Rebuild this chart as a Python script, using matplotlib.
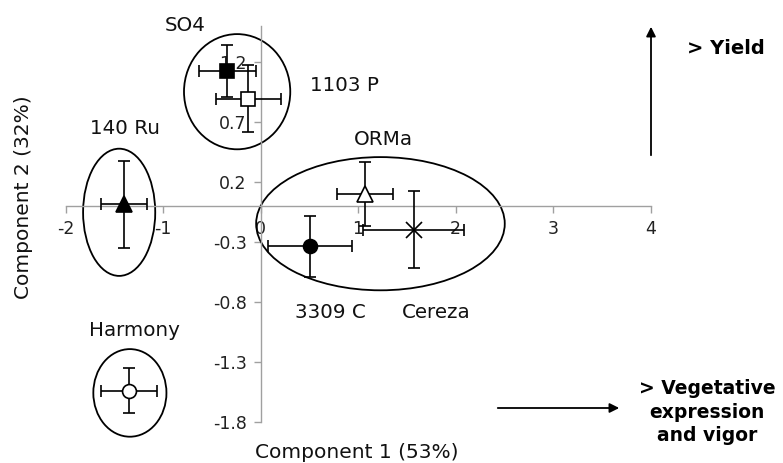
import matplotlib
matplotlib.use("Agg")
import matplotlib.pyplot as plt
from matplotlib.patches import Ellipse, FancyArrowPatch

# ---- data ----
names = ["SO4", "1103 P", "140 Ru", "Harmony", "ORMa", "3309 C", "Cereza"]
comp1 = [-0.34, -0.125, -1.40, -1.35, 1.07, 0.51, 1.57]
comp2 = [1.12, 0.89, 0.01, -1.54, 0.10, -0.34, -0.20]
err1 = [0.29, 0.33, 0.235, 0.29, 0.29, 0.43, 0.52]
err2 = [0.215, 0.28, 0.36, 0.186, 0.267, 0.253, 0.32]
markers = ["s", "s", "^", "o", "^", "o", "x"]
filled = [True, False, True, False, False, True, False]

label_x = [-0.77, 0.86, -1.39, -1.29, 1.26, 0.72, 1.80]
label_y = [1.50, 1.00, 0.64, -1.04, 0.55, -0.89, -0.89]

# cluster ellipses: centre x, centre y, width, height
ell_cx = [-0.24, -1.45, -1.34, 1.23]
ell_cy = [0.95, -0.055, -1.56, -0.15]
ell_w = [1.09, 0.74, 0.75, 2.55]
ell_h = [0.96, 1.06, 0.73, 1.11]

xticks = [-2, -1, 0, 1, 2, 3, 4]
yticks = [-1.8, -1.3, -0.8, -0.3, 0.2, 0.7, 1.2]

# ---- figure ----
fig = plt.figure(figsize=(7.83, 4.63), dpi=100)
ax = fig.add_axes([0.0837, 0.0892, 0.7471, 0.8553])
ax.set_xlim(-2, 4)
ax.set_ylim(-1.8, 1.5)

for s in ["top", "right"]:
    ax.spines[s].set_visible(False)
ax.spines["left"].set_position(("data", 0))
ax.spines["bottom"].set_position(("data", 0))
for s in ["left", "bottom"]:
    ax.spines[s].set_color("#a0a0a0")
    ax.spines[s].set_linewidth(1.0)

ax.set_xticks(xticks)
ax.set_xticklabels([str(t) for t in xticks])
ax.set_yticks(yticks)
ax.set_yticklabels([f"{t:g}" for t in yticks])
ax.tick_params(axis="both", direction="out", length=5, width=1.0,
               color="#a0a0a0", labelsize=12.5, labelcolor="#222222", pad=5)

for i in range(len(names)):
    fc = "black" if filled[i] else "white"
    ms = 11 if markers[i] in ("^", "x") else 10
    ax.errorbar(comp1[i], comp2[i], xerr=err1[i], yerr=err2[i],
                fmt="none", ecolor="black", elinewidth=1.2, capsize=4.5,
                capthick=1.2, zorder=3, clip_on=False)
    ax.plot(comp1[i], comp2[i], marker=markers[i], markersize=ms,
            markerfacecolor=fc, markeredgecolor="black",
            markeredgewidth=1.2, linestyle="none", zorder=4, clip_on=False)
    ax.text(label_x[i], label_y[i], names[i], fontsize=14.3,
            ha="center", va="center", color="#111111", clip_on=False)

for i in range(len(ell_cx)):
    ax.add_patch(Ellipse((ell_cx[i], ell_cy[i]), ell_w[i], ell_h[i],
                         fill=False, edgecolor="black", linewidth=1.3,
                         zorder=2, clip_on=False))

fig.text(357 / 783, 1 - 453 / 463, "Component 1 (53%)", fontsize=14.5,
         ha="center", va="center", color="#111111")
fig.text(24 / 783, 1 - 197 / 463, "Component 2 (32%)", fontsize=14.5,
         ha="center", va="center", rotation=90, color="#111111")

# direction arrows
fig.patches.append(FancyArrowPatch(
    (651 / 783, 1 - 158 / 463), (651 / 783, 1 - 24 / 463),
    transform=fig.transFigure, arrowstyle="-|>", mutation_scale=14,
    color="black", linewidth=1.3))
fig.patches.append(FancyArrowPatch(
    (495 / 783, 1 - 408 / 463), (622 / 783, 1 - 408 / 463),
    transform=fig.transFigure, arrowstyle="-|>", mutation_scale=14,
    color="black", linewidth=1.3))

fig.text(726 / 783, 1 - 48 / 463, "> Yield", fontsize=14,
         fontweight="bold", ha="center", va="center")
fig.text(707 / 783, 1 - 412 / 463, "> Vegetative\nexpression\nand vigor",
         fontsize=13.5, fontweight="bold", ha="center", va="center",
         linespacing=1.3)

fig.savefig("out.png", dpi=100)
